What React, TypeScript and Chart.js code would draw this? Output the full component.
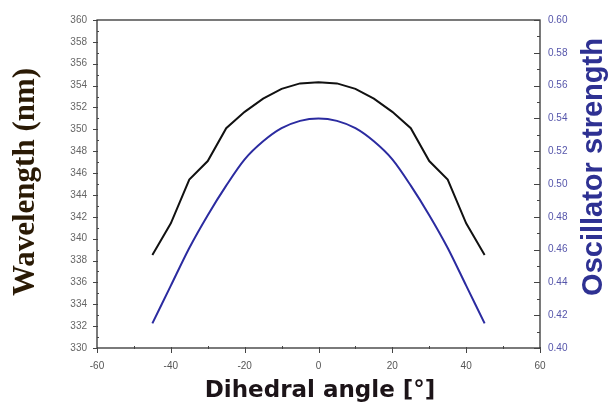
import React, { useEffect, useRef } from "react";
import { Chart, registerables } from "chart.js";

Chart.register(...registerables);

const angles = [-45, -40, -35, -30, -25, -20, -15, -10, -5, 0, 5, 10, 15, 20, 25, 30, 35, 40, 45];
const wavelength = [338.5, 341.4, 345.4, 347.1, 350.1, 351.6, 352.8, 353.7, 354.2, 354.3, 354.2, 353.7, 352.8, 351.6, 350.1, 347.1, 345.4, 341.4, 338.5];
const oscillator = [0.415, 0.438, 0.461, 0.481, 0.499, 0.515, 0.526, 0.534, 0.5385, 0.54, 0.5385, 0.534, 0.526, 0.515, 0.499, 0.481, 0.461, 0.438, 0.415];

const xTitle = "Dihedral angle [°]";
const yTitle = "Wavelength (nm)";
const y2Title = "Oscillator strength";

const W = 614;
const H = 409;

const decorPlugin = {
  id: "decor",
  afterDraw(chart: any) {
    const ctx = chart.ctx;
    const a = chart.chartArea;
    const sx = chart.scales.x;
    const sy = chart.scales.y;
    const sy2 = chart.scales.y2;
    ctx.save();
    // frame
    ctx.strokeStyle = "#333";
    ctx.lineWidth = 1.3;
    ctx.strokeRect(a.left, a.top, a.right - a.left, a.bottom - a.top);
    ctx.lineWidth = 1;
    // left axis ticks
    for (let v = sy.min; v <= sy.max + 1e-9; v += 1) {
      const p = Math.round(sy.getPixelForValue(v)) + 0.5;
      const major = Math.round(v) % 2 === 0;
      ctx.strokeStyle = "#444";
      ctx.beginPath();
      ctx.moveTo(a.left - (major ? 4 : 0), p);
      ctx.lineTo(a.left + (major ? 1 : 2), p);
      ctx.stroke();
    }
    // right axis ticks (inward)
    for (let i = 0; i <= 20; i++) {
      const v = sy2.min + i * 0.01;
      const p = Math.round(sy2.getPixelForValue(v)) + 0.5;
      const major = i % 2 === 0;
      ctx.strokeStyle = "#444";
      ctx.beginPath();
      ctx.moveTo(a.right - (major ? 6 : 3), p);
      ctx.lineTo(a.right, p);
      ctx.stroke();
    }
    // x axis ticks
    for (let v = sx.min; v <= sx.max + 1e-9; v += 10) {
      const p = Math.round(sx.getPixelForValue(v)) + 0.5;
      const major = Math.round(v) % 20 === 0;
      ctx.strokeStyle = "#444";
      ctx.beginPath();
      ctx.moveTo(p, a.bottom - (major ? 1 : 2));
      ctx.lineTo(p, a.bottom + (major ? 5 : 1));
      ctx.stroke();
    }
    // titles
    ctx.textAlign = "center";
    ctx.textBaseline = "middle";
    ctx.save();
    ctx.translate(26, 182);
    ctx.rotate(-Math.PI / 2);
    ctx.font = "bold 31px 'Liberation Serif', serif";
    ctx.fillStyle = "#2a1a05";
    ctx.fillText(yTitle, 0, 0);
    ctx.restore();

    ctx.save();
    ctx.translate(594, 167);
    ctx.rotate(-Math.PI / 2);
    ctx.font = "bold 29px 'Liberation Sans', Arial, sans-serif";
    ctx.fillStyle = "#2e3192";
    ctx.fillText(y2Title, 0, 0);
    ctx.restore();

    ctx.font = "bold 23px 'DejaVu Sans', Verdana, sans-serif";
    ctx.fillStyle = "#1c1418";
    ctx.fillText(xTitle, 320, 391);
    ctx.restore();
  },
};

export default function App() {
  const ref = useRef<HTMLCanvasElement>(null);

  useEffect(() => {
    if (!ref.current) return;
    const chart = new Chart(ref.current, {
      type: "line",
      data: {
        datasets: [
          {
            label: "Wavelength",
            data: angles.map((a, i) => ({ x: a, y: wavelength[i] })),
            borderColor: "#111111",
            borderWidth: 2,
            pointRadius: 0,
            tension: 0,
            yAxisID: "y",
          },
          {
            label: "Oscillator strength",
            data: angles.map((a, i) => ({ x: a, y: oscillator[i] })),
            borderColor: "#2b2ba0",
            borderWidth: 2,
            pointRadius: 0,
            tension: 0.3,
            yAxisID: "y2",
          },
        ],
      },
      options: {
        animation: false,
        responsive: false,
        layout: { padding: { top: 20 } },
        plugins: { legend: { display: false }, tooltip: { enabled: false } },
        scales: {
          x: {
            type: "linear",
            min: -60,
            max: 60,
            grid: { display: false, drawTicks: false },
            border: { display: false },
            ticks: {
              stepSize: 20,
              padding: 12,
              color: "#555",
              font: { size: 10, family: "'Liberation Sans', Arial, sans-serif" },
            },
            afterFit(s: any) {
              s.height = 61;
            },
          },
          y: {
            position: "left",
            min: 330,
            max: 360,
            grid: { display: false, drawTicks: false },
            border: { display: false },
            ticks: {
              stepSize: 2,
              padding: 10,
              color: "#666",
              font: { size: 10, family: "'Liberation Sans', Arial, sans-serif" },
            },
            afterFit(s: any) {
              s.width = 97;
            },
          },
          y2: {
            position: "right",
            min: 0.4,
            max: 0.6,
            grid: { display: false, drawTicks: false },
            border: { display: false },
            ticks: {
              stepSize: 0.02,
              padding: 8,
              color: "#5555aa",
              font: { size: 10, family: "'Liberation Sans', Arial, sans-serif" },
              callback: (v: any) => Number(v).toFixed(2),
            },
            afterFit(s: any) {
              s.width = 74;
            },
          },
        },
      },
      plugins: [decorPlugin],
    });
    return () => chart.destroy();
  }, []);

  return (
    <div style={{ position: "absolute", left: 0, top: 0, width: W, height: H, background: "#fff" }}>
      <canvas ref={ref} width={W} height={H} style={{ display: "block" }} />
    </div>
  );
}
